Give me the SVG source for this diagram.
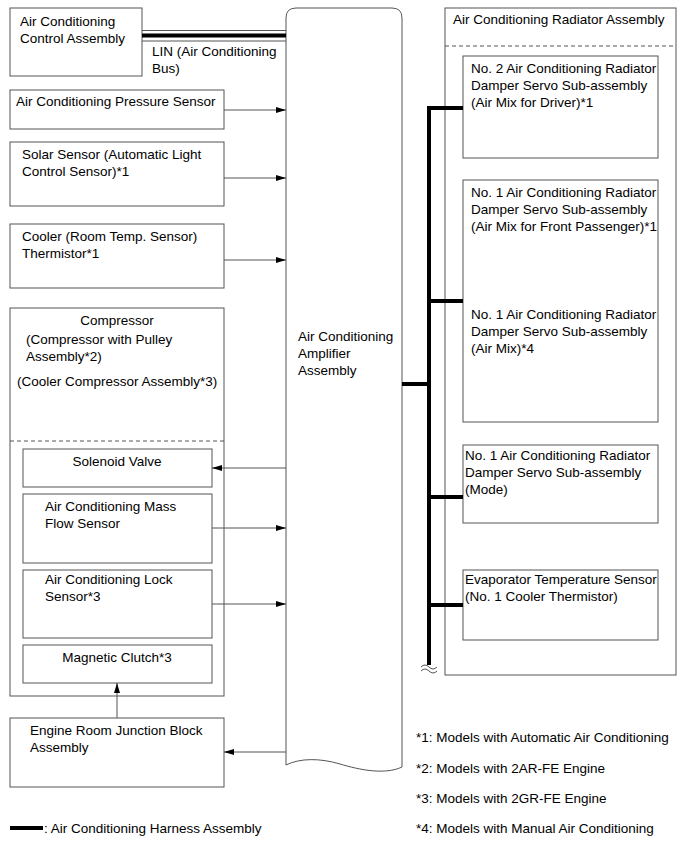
<svg xmlns="http://www.w3.org/2000/svg" width="689" height="853" viewBox="0 0 689 853">
<style>
  text { font-family: "Liberation Sans", Arial, sans-serif; font-size: 13.5px; fill: #000; }
  .box { fill: #fff; stroke: #555; stroke-width: 1; }
  .dash { stroke: #555; stroke-width: 1; stroke-dasharray: 4 3; fill: none; }
  .wire { stroke: #555; stroke-width: 1; fill: none; }
  .bus { stroke: #000; stroke-width: 4; fill: none; }
  .mid { text-anchor: middle; }
</style>
<defs>
  <marker id="arr" viewBox="0 0 10 6" refX="10" refY="3" markerWidth="10" markerHeight="6" orient="auto" markerUnits="userSpaceOnUse">
    <path d="M0,0 L10,3 L0,6 z" fill="#000"/>
  </marker>
</defs>
<rect width="689" height="853" fill="#fff"/>

<g id="amplifier">
  <path class="box" d="M286,765 L286,18 Q286,8 296,8 L392,8 Q402,8 402,18 L402,767 C385,775 360,770 340,764 C320,758 300,758 286,765 Z"/>
  <text x="298" y="341">Air Conditioning</text>
  <text x="298" y="358">Amplifier</text>
  <text x="298" y="375">Assembly</text>
</g>

<g id="control-assembly">
  <rect class="box" x="10" y="8" width="132" height="68"/>
  <text x="20" y="26">Air Conditioning</text>
  <text x="20" y="43">Control Assembly</text>
</g>

<g id="pressure-sensor">
  <rect class="box" x="10" y="90" width="214" height="39"/>
  <text x="16" y="106">Air Conditioning Pressure Sensor</text>
</g>

<g id="solar-sensor">
  <rect class="box" x="10" y="142" width="214" height="64"/>
  <text x="22" y="159">Solar Sensor (Automatic Light</text>
  <text x="22" y="176">Control Sensor)*1</text>
</g>

<g id="cooler-thermistor">
  <rect class="box" x="10" y="224" width="214" height="64"/>
  <text x="22" y="241">Cooler (Room Temp. Sensor)</text>
  <text x="22" y="258">Thermistor*1</text>
</g>

<g id="compressor">
  <rect class="box" x="10" y="308" width="214" height="388"/>
  <text class="mid" x="117" y="325">Compressor</text>
  <text x="26" y="344">(Compressor with Pulley</text>
  <text x="26" y="361">Assembly*2)</text>
  <text x="17" y="386">(Cooler Compressor Assembly*3)</text>
  <line class="dash" x1="10" y1="441" x2="224" y2="441"/>
</g>

<g id="solenoid-valve">
  <rect class="box" x="23" y="449" width="189" height="38"/>
  <text class="mid" x="117" y="466">Solenoid Valve</text>
</g>

<g id="mass-flow-sensor">
  <rect class="box" x="23" y="494" width="189" height="69"/>
  <text x="45" y="511">Air Conditioning Mass</text>
  <text x="45" y="528">Flow Sensor</text>
</g>

<g id="lock-sensor">
  <rect class="box" x="23" y="570" width="189" height="68"/>
  <text x="45" y="584">Air Conditioning Lock</text>
  <text x="45" y="601">Sensor*3</text>
</g>

<g id="magnetic-clutch">
  <rect class="box" x="23" y="645" width="189" height="38"/>
  <text class="mid" x="117" y="662">Magnetic Clutch*3</text>
</g>

<g id="junction-block">
  <rect class="box" x="10" y="718" width="214" height="69"/>
  <text x="30" y="735">Engine Room Junction Block</text>
  <text x="30" y="752">Assembly</text>
</g>

<g id="radiator-assembly">
  <rect class="box" x="445" y="8" width="231" height="667"/>
  <text x="453" y="24">Air Conditioning Radiator Assembly</text>
  <line class="dash" x1="445" y1="46" x2="676" y2="46"/>
</g>

<g id="servo-no2-driver">
  <rect class="box" x="463" y="56" width="195" height="102"/>
  <text x="471" y="73">No. 2 Air Conditioning Radiator</text>
  <text x="471" y="90">Damper Servo Sub-assembly</text>
  <text x="471" y="107">(Air Mix for Driver)*1</text>
</g>

<g id="servo-no1-airmix">
  <rect class="box" x="463" y="180" width="195" height="242"/>
  <text x="471" y="197">No. 1 Air Conditioning Radiator</text>
  <text x="471" y="214">Damper Servo Sub-assembly</text>
  <text x="471" y="231">(Air Mix for Front Passenger)*1</text>
  <text x="471" y="319">No. 1 Air Conditioning Radiator</text>
  <text x="471" y="336">Damper Servo Sub-assembly</text>
  <text x="471" y="353">(Air Mix)*4</text>
</g>

<g id="servo-no1-mode">
  <rect class="box" x="463" y="445" width="195" height="78"/>
  <text x="465" y="460">No. 1 Air Conditioning Radiator</text>
  <text x="465" y="477">Damper Servo Sub-assembly</text>
  <text x="465" y="494">(Mode)</text>
</g>

<g id="evaporator-sensor">
  <rect class="box" x="463" y="570" width="195" height="70"/>
  <text x="465" y="584">Evaporator Temperature Sensor</text>
  <text x="465" y="601">(No. 1 Cooler Thermistor)</text>
</g>

<g id="connectors">
  <!-- LIN bus -->
  <line x1="142" y1="30.5" x2="286" y2="30.5" stroke="#555" stroke-width="1"/>
  <line x1="142" y1="35.5" x2="286" y2="35.5" stroke="#000" stroke-width="4"/>
  <line x1="142" y1="41" x2="286" y2="41" stroke="#555" stroke-width="1"/>
  <text x="152" y="56">LIN (Air Conditioning</text>
  <text x="152" y="73">Bus)</text>
  <!-- inputs -->
  <line class="wire" x1="224" y1="110" x2="286" y2="110" marker-end="url(#arr)"/>
  <line class="wire" x1="224" y1="178" x2="286" y2="178" marker-end="url(#arr)"/>
  <line class="wire" x1="224" y1="260" x2="286" y2="260" marker-end="url(#arr)"/>
  <line class="wire" x1="286" y1="468" x2="212" y2="468" marker-end="url(#arr)"/>
  <line class="wire" x1="212" y1="528" x2="286" y2="528" marker-end="url(#arr)"/>
  <line class="wire" x1="212" y1="604" x2="286" y2="604" marker-end="url(#arr)"/>
  <line class="wire" x1="286" y1="752" x2="224" y2="752" marker-end="url(#arr)"/>
  <line class="wire" x1="117" y1="718" x2="117" y2="683" marker-end="url(#arr)"/>
  <!-- harness bus -->
  <path class="bus" d="M463,108 L429,108 L429,665"/>
  <line class="bus" x1="429" y1="301" x2="463" y2="301"/>
  <line class="bus" x1="429" y1="497" x2="463" y2="497"/>
  <line class="bus" x1="429" y1="605" x2="463" y2="605"/>
  <line class="bus" x1="402" y1="384" x2="429" y2="384"/>
  <path d="M421,667 Q425,663 429,667 T437,667 M421,671 Q425,667 429,671 T437,671" stroke="#555" stroke-width="1" fill="none"/>
</g>

<g id="legend">
  <line x1="10" y1="828" x2="43" y2="828" stroke="#000" stroke-width="4"/>
  <text x="44" y="833">: Air Conditioning Harness Assembly</text>
  <text x="416" y="742">*1: Models with Automatic Air Conditioning</text>
  <text x="416" y="773">*2: Models with 2AR-FE Engine</text>
  <text x="416" y="803">*3: Models with 2GR-FE Engine</text>
  <text x="416" y="833">*4: Models with Manual Air Conditioning</text>
</g>
</svg>
